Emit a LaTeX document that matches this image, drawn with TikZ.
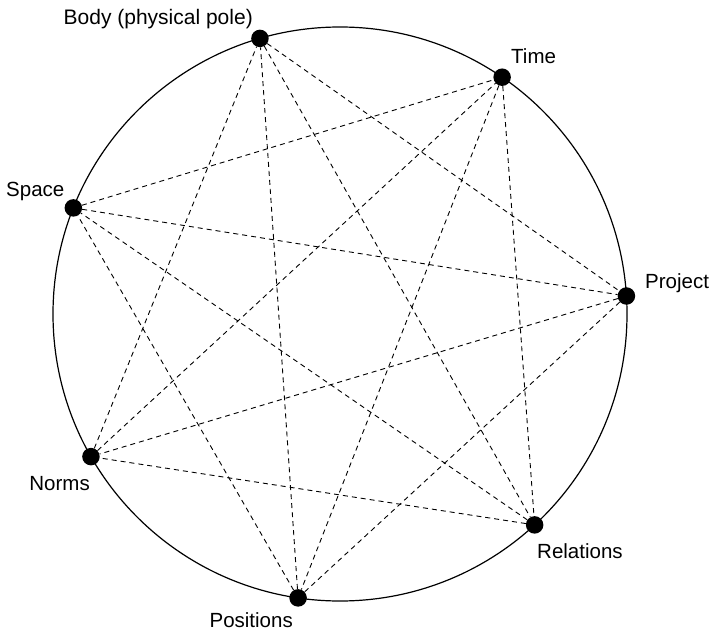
\documentclass[tikz,border=0pt]{standalone}
\usepackage{fontspec}
\setmainfont{Liberation Sans}
\usetikzlibrary{calc}
\begin{document}
\begin{tikzpicture}[x=1bp,y=-1bp,
  pole/.style={circle,fill=black,draw=none,minimum size=17.5bp,inner sep=0pt},
  link/.style={dashed,dash pattern=on 5bp off 4bp,line width=0.9bp},
  lbl/.style={font=\fontsize{20.5bp}{24bp}\selectfont,inner sep=0pt}]
\useasboundingbox (0,0) rectangle (713,632);
\coordinate (c) at (340,314);
% outer circle
\draw[line width=1.2bp] (c) circle[radius=287];
% the seven poles on the circle
\node[pole] (body) at ($(c)+(-106.2:287)$) {};
\node[pole] (time) at ($(c)+(-55.6:287)$) {};
\node[pole] (proj) at ($(c)+(-3.6:287)$) {};
\node[pole] (rel)  at ($(c)+(47.3:287)$) {};
\node[pole] (pos)  at ($(c)+(98.4:287)$) {};
\node[pole] (norm) at ($(c)+(150.2:287)$) {};
\node[pole] (spc)  at ($(c)+(-158.3:287)$) {};
% dashed links between all non-neighbouring poles
\foreach \a/\b in {body/proj,time/rel,proj/pos,rel/norm,pos/spc,norm/body,spc/time,
                   body/rel,time/pos,proj/norm,rel/spc,pos/body,norm/time,spc/proj}
  \draw[link] (\a) -- (\b);
% labels
\node[lbl,font=\fontsize{21bp}{24bp}\selectfont,anchor=base east] (lbody) at (253,25) {Body (physical pole)};
\node[lbl,anchor=base west] (ltime) at (511,64) {Time};
\node[lbl,anchor=base west] (lproj) at (645,288) {Project};
\node[lbl,anchor=base west] (lrel)  at (537,558) {Relations};
\node[lbl,anchor=base east] (lpos)  at (293,627) {Positions};
\node[lbl,anchor=base east] (lnorm) at (90,490) {Norms};
\node[lbl,anchor=base west] (lspc)  at (6,197) {Space};
\end{tikzpicture}
\end{document}
